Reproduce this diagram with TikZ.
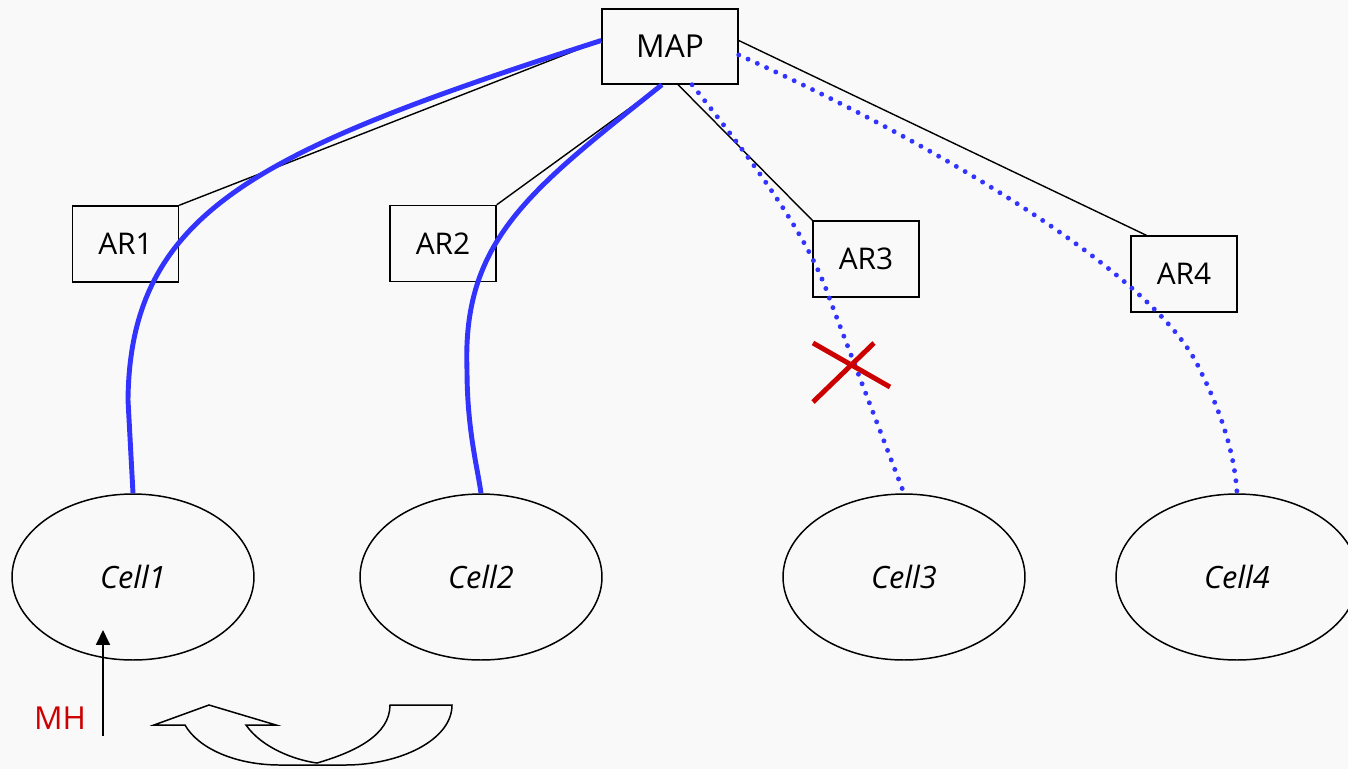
\documentclass[tikz,border=0pt]{standalone}
\usepackage{fontspec}
\setmainfont{Open Sans}
\usetikzlibrary{shapes.geometric,arrows.meta,calc}
\definecolor{bg}{RGB}{249,249,249}
\definecolor{lblue}{RGB}{51,51,255}
\definecolor{xred}{RGB}{204,0,0}
\begin{document}
\begin{tikzpicture}[x=0.02cm,y=-0.02cm,
  box/.style={draw, line width=0.85pt, rectangle, inner sep=0pt, font=\fontsize{17}{20}\selectfont},
  arbox/.style={box, minimum width=2.12cm, minimum height=1.52cm},
  cell/.style={draw, ellipse, line width=0.85pt, minimum width=4.84cm, minimum height=3.32cm, inner sep=0pt, font=\itshape\fontsize{17.5}{20}\selectfont},
  link/.style={line width=0.8pt},
  route/.style={lblue, line width=2.8pt},
  dotroute/.style={lblue, line width=2.8pt, line cap=round, dash pattern=on 0pt off 5.8pt},
  cross/.style={xred, line width=2.8pt}]
\fill[bg] (0,0) rectangle (1348,769);
\useasboundingbox (0,0) rectangle (1348,769);

% nodes
\node[box, minimum width=2.72cm, minimum height=1.5cm, font=\fontsize{18}{21}\selectfont] (map) at (670,46.5) {MAP};
\node[arbox] (ar1) at (125.5,244) {AR1};
\node[arbox] (ar2) at (443,243.5) {AR2};
\node[arbox] (ar3) at (866,259) {AR3};
\node[arbox] (ar4) at (1184,274) {AR4};
\node[cell] (c1) at (133,577) {Cell1};
\node[cell] (c2) at (481,577) {Cell2};
\node[cell] (c3) at (904,577) {Cell3};
\node[cell] (c4) at (1237,577) {Cell4};

% black tree links
\draw[link] (map.175) -- (ar1.north east);
\draw[link] (map.258) -- (ar2.north east);
\draw[link] (map.282) -- (ar3.north west);
\draw[link] (map.5) -- ($(ar4.north west)+(16,0)$);

% blue routes
\draw[route] (map.175) .. controls (260,150) and (130,210) .. (128,400) -- (c1.north);
\draw[route] (map.258) .. controls (530,190) and (462,240) .. (467,370) .. controls (467,430) and (478,470) .. (c2.north);
\draw[dotroute] (map.300) .. controls (760,170) and (810,240) .. (830,300) -- (c3.north);
\draw[dotroute] (map.353) .. controls (950,150) and (1160,280) .. (1200,370) .. controls (1225,420) and (1235,460) .. (c4.north);

% red cross
\draw[cross] (813,402) -- (874,343);
\draw[cross] (813,343) -- (890,387);

% MH arrow
\node[text=xred, font=\fontsize{18}{21}\selectfont] (mh) at (60,718) {MH};
\coordinate (mhs) at (103,736);
\coordinate (mht) at (103,630);
\draw[line width=0.85pt, -{Triangle[length=8.5pt,width=8pt]}] (mhs) -- (mht);

% curved U-turn block arrow
\draw[line width=0.85pt, line join=miter]
  (154,725) -- (209,705) -- (276,725) -- (246,725)
  .. controls (262,748) and (295,760) .. (317,763)
  .. controls (355,752) and (390,735) .. (390,705)
  -- (452,705)
  .. controls (452,740) and (400,765) .. (345,765)
  -- (280,765)
  .. controls (235,765) and (198,748) .. (185,725)
  -- cycle;
\end{tikzpicture}
\end{document}
